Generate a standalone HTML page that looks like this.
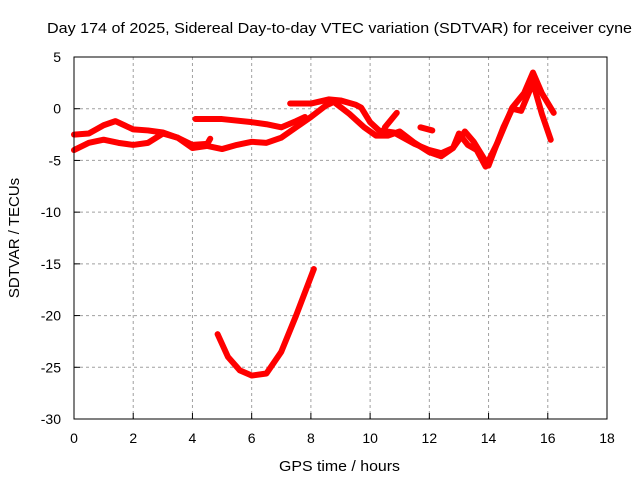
<!DOCTYPE html>
<html><head><meta charset="utf-8"><style>
body{margin:0;background:#fff}
svg{display:block;font-family:"Liberation Sans",sans-serif}
</style></head><body>
<svg id="chart" width="640" height="480">
<text x="47" y="33" font-size="15" textLength="585" lengthAdjust="spacingAndGlyphs">Day 174 of 2025, Sidereal Day-to-day VTEC variation (SDTVAR) for receiver cyne</text>
<text x="279" y="471" font-size="15" textLength="121" lengthAdjust="spacingAndGlyphs">GPS time / hours</text>
<text transform="translate(19,238) rotate(-90)" font-size="15" text-anchor="middle">SDTVAR / TECUs</text>
<g id="grid"></g><g id="ticks"></g><g id="series"></g>
<rect x="74" y="57" width="533" height="362" fill="none" stroke="#000" stroke-width="1"/>
</svg>
<script>
const xTicks=[0,2,4,6,8,10,12,14,16,18];
const yTicks=[5,0,-5,-10,-15,-20,-25,-30];
const trackLowerLeftH=[0,0.5,1,1.5,2,2.5,3,3.5,4,4.5,5,5.5,6,6.5,7,7.5,8,8.5,8.8];
const trackLowerLeftV=[-4.0,-3.3,-3.0,-3.3,-3.5,-3.3,-2.4,-2.8,-3.8,-3.6,-3.9,-3.5,-3.2,-3.3,-2.8,-1.8,-0.8,0.3,0.7];
const trackUpperLeftH=[0,0.5,1,1.4,2,2.5,3,3.5,4,4.5,4.6];
const trackUpperLeftV=[-2.5,-2.4,-1.6,-1.2,-2.0,-2.1,-2.3,-2.8,-3.5,-3.4,-2.9];
const trackMidH=[4.1,5,6,6.5,7,7.5,7.8];
const trackMidV=[-1.0,-1.0,-1.3,-1.5,-1.8,-1.2,-0.8];
const trackRightH=[7.3,8,8.6,9,9.5,9.7,10,10.3,10.8,11.5,12,12.4,12.8,13.0,13.3,13.6,13.9,14.3,14.8,15.2,15.5,15.8,16.2];
const trackRightV=[0.5,0.5,0.9,0.8,0.4,0.1,-1.3,-2.1,-2.3,-3.4,-4.0,-4.3,-3.8,-2.4,-3.5,-4.0,-5.6,-3.3,0.1,1.5,3.5,1.5,-0.4];
const trackRight2H=[8.8,9.3,9.8,10.2,10.6,11.0,11.5,12.0,12.4,12.8,13.2,13.5,13.8,14.0,14.2,14.5,14.8,15.1,15.5,15.8,16.1];
const trackRight2V=[0.6,-0.5,-1.8,-2.6,-2.6,-2.2,-3.3,-4.2,-4.6,-3.8,-2.2,-3.2,-4.6,-5.5,-4.0,-1.8,0.0,-0.2,2.5,-0.5,-3.0];
const spurAH=[10.5,10.9];const spurAV=[-1.8,-0.4];
const spurBH=[11.7,12.1];const spurBV=[-1.8,-2.1];
const dipH=[4.85,5.2,5.6,6.0,6.5,7.0,7.5,8.1];
const dipV=[-21.8,-24.0,-25.3,-25.8,-25.6,-23.5,-20.0,-15.5];
const X=h=>74+h*(533/18);
const Y=v=>57+(5-v)*(362/35);
const NS="http://www.w3.org/2000/svg";
const g=document.getElementById('grid'),t=document.getElementById('ticks'),s=document.getElementById('series');
function mk(tag,at,parent){const e=document.createElementNS(NS,tag);for(const k in at)e.setAttribute(k,at[k]);parent.appendChild(e);return e;}
xTicks.forEach(h=>{
 if(h>0&&h<18){const l=mk('line',{x1:X(h),x2:X(h),y1:57,y2:419,stroke:'#a0a0a0','stroke-dasharray':'3,3'},g);
 
 }
 const tk=mk('line',{x1:X(h),x2:X(h),y1:419,y2:413,stroke:'#000'},t);
 
 
 const tx=mk('text',{x:X(h),y:443,'font-size':14,'text-anchor':'middle'},t);tx.textContent=h;
 
 
});
yTicks.forEach(v=>{
 if(v<5&&v>-30){const l=mk('line',{x1:74,x2:607,y1:Y(v),y2:Y(v),stroke:'#a0a0a0','stroke-dasharray':'3,3'},g);
 
 }
 const tk=mk('line',{x1:74,x2:80,y1:Y(v),y2:Y(v),stroke:'#000'},t);
 
 
 const tx=mk('text',{x:61,y:Y(v)+5,'font-size':14,'text-anchor':'end'},t);tx.textContent=v;
 
 
});
[[trackLowerLeftH,trackLowerLeftV,'track-lower-left'],[trackUpperLeftH,trackUpperLeftV,'track-upper-left'],[trackMidH,trackMidV,'track-mid'],[trackRightH,trackRightV,'track-right'],[trackRight2H,trackRight2V,'track-right-2'],[spurAH,spurAV,'spur-a'],[spurBH,spurBV,'spur-b'],[dipH,dipV,'track-dip']].forEach(([hs,vs,n])=>{
 const p=mk('polyline',{points:hs.map((h,i)=>X(h)+','+Y(vs[i])).join(' '),fill:'none',stroke:'#ff0000','stroke-width':6,'stroke-linejoin':'round','stroke-linecap':'round'},s);
 
 
});
</script>
</body></html>
